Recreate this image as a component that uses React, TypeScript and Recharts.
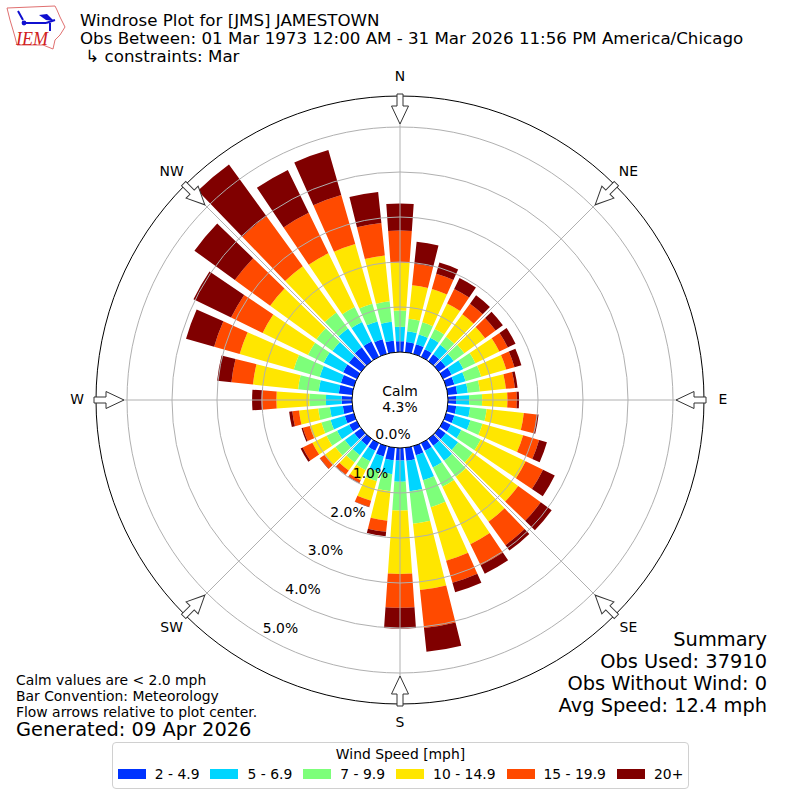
import React from 'react'
import { RadialBarChart, RadialBar, PolarAngleAxis, PolarRadiusAxis } from 'recharts'

const directions = [0, 10, 20, 30, 40, 50, 60, 70, 80, 90, 100, 110, 120, 130, 140, 150, 160, 170, 180, 190, 200, 210, 220, 230, 240, 250, 260, 270, 280, 290, 300, 310, 320, 330, 340, 350]

const speed2to5 = [.24, .23, .22, .19, .19, .19, .21, .19, .21, .18, .19, .19, .19, .19, .19, .19, .21, .29, .28, .28, .24, .19, .18, .19, .19, .21, .21, .23, .30, .30, .34, .34, .38, .38, .34, .26]
const speed5to7 = [.32, .24, .23, .28, .26, .22, .29, .26, .24, .29, .31, .37, .26, .34, .41, .41, .58, .68, .47, .31, .35, .26, .27, .26, .30, .33, .29, .35, .45, .49, .48, .45, .52, .48, .41, .42]
const speed7to10 = [.36, .28, .28, .22, .22, .29, .30, .36, .27, .29, .37, .28, .48, .40, .44, .48, .62, .73, .64, .38, .22, .22, .20, .26, .26, .21, .26, .37, .46, .60, .39, .44, .44, .37, .41, .46]
const speed10to15 = [1.07, .75, .77, .63, .62, .57, .59, .58, .58, .56, .83, .94, 1.11, 1.25, 1.24, 1.42, 1.24, 1.48, 1.41, .66, .45, .25, .22, .30, .35, .27, .43, .73, 1.01, 1.25, 1.12, 1.27, 1.27, 1.33, 1.38, 1.02]
const speed15to20 = [.71, .48, .35, .36, .29, .29, .21, .19, .20, .21, .29, .37, .43, .62, .64, .52, .51, .85, .75, .25, .14, .06, .11, .12, .24, .16, .15, .33, .48, .59, .78, .97, 1.37, 1.00, 1.13, .73]
const speed20up = [.60, .49, .26, .27, .23, .20, .19, .16, .06, .05, .04, .18, .29, .30, .15, .21, .22, .53, .46, .10, .01, .01, .01, .01, .05, .03, .07, .21, .32, .65, .93, 1.11, 1.42, 1.06, 1.04, .69]

const speedKeys = ['s1', 's2', 's3', 's4', 's5', 's6']
const speedLabels = ['2 - 4.9', '5 - 6.9', '7 - 9.9', '10 - 14.9', '15 - 19.9', '20+']
const speedColors = ['#0033ff', '#00d5ff', '#7dff7a', '#ffe600', '#ff4a00', '#800000']

const percentTicks = [0, 1, 2, 3, 4, 5]
const compassNames = ['N', 'NE', 'E', 'SE', 'S', 'SW', 'W', 'NW']
const compassBearings = [0, 45, 90, 135, 180, 225, 270, 315]

const titleLines = [
  'Windrose Plot for [JMS] JAMESTOWN',
  'Obs Between: 01 Mar 1973 12:00 AM - 31 Mar 2026 11:56 PM America/Chicago',
  ' \u21b3 constraints: Mar'
]
const summaryLines = ['Summary', 'Obs Used: 37910', 'Obs Without Wind: 0', 'Avg Speed: 12.4 mph']
const noteLines = ['Calm values are < 2.0 mph', 'Bar Convention: Meteorology', 'Flow arrows relative to plot center.']

const chartData = directions.map((dir, i) => ({
  dir,
  s1: speed2to5[i],
  s2: speed5to7[i],
  s3: speed7to10[i],
  s4: speed10to15[i],
  s5: speed15to20[i],
  s6: speed20up[i]
}))

const CX = 400
const CY = 400
const R_IN = 48
const R_OUT = 304
const PX_PER_PCT = 45
const MAX_PCT = 6
const FONT = 'DejaVu Sans'

const ringRadius = (t: number) => R_IN + t * PX_PER_PCT
const rad = (deg: number) => (deg * Math.PI) / 180

function Logo() {
  return (
    <g>
      <path
        d="M7 8 L55 6 L57 10 L60 17 L65 27 L60 35 L55 40 L53 49 L43 45 L17 45 L15 37 L13 30 L10 20 Z"
        fill="#fff"
        stroke="#e07070"
        strokeWidth={1}
      />
      <path d="M25 23 L46 23 M46 23 L55 20 M18 11 L23 20 M50 23 L50 31" stroke="#1010d0" strokeWidth={2} fill="none" />
      <path d="M39 15 L47 14 L54 21 L46 20 Z" fill="#1010d0" />
      <circle cx={24} cy={23} r={2.4} fill="#1010d0" />
      <text x={16} y={45} fontFamily="Liberation Serif" fontStyle="italic" fontSize={18} fill="#d02020">IEM</text>
    </g>
  )
}

export default function App() {
  return (
    <div style={{ position: 'absolute', left: 0, top: 0, width: 800, height: 800, background: '#fff' }}>
      <RadialBarChart
        width={800}
        height={800}
        data={chartData}
        layout="centric"
        cx={CX}
        cy={CY}
        innerRadius={R_IN}
        outerRadius={ringRadius(MAX_PCT)}
        startAngle={85}
        endAngle={-275}
        barCategoryGap="10%"
        margin={{ top: 0, right: 0, bottom: 0, left: 0 }}
      >
        <PolarAngleAxis type="category" dataKey="dir" tick={false} axisLine={false} />
        <PolarRadiusAxis type="number" domain={[0, MAX_PCT]} axisLine={false} tickLine={false} tick={false} />
        {speedKeys.map((key, i) => (
          <RadialBar key={key} dataKey={key} stackId="wind" fill={speedColors[i]} isAnimationActive={false} />
        ))}
      </RadialBarChart>

      <svg width={800} height={800} style={{ position: 'absolute', left: 0, top: 0, pointerEvents: 'none' }}>
        {percentTicks.slice(1).map((t) => (
          <circle key={t} cx={CX} cy={CY} r={ringRadius(t)} fill="none" stroke="#b0b0b0" strokeWidth={1} />
        ))}
        {compassBearings.map((b) => (
          <line
            key={b}
            x1={CX + R_IN * Math.sin(rad(b))}
            y1={CY - R_IN * Math.cos(rad(b))}
            x2={CX + R_OUT * Math.sin(rad(b))}
            y2={CY - R_OUT * Math.cos(rad(b))}
            stroke="#b0b0b0"
            strokeWidth={1}
          />
        ))}
        <circle cx={CX} cy={CY} r={R_OUT} fill="none" stroke="#000" strokeWidth={1} />
        <circle cx={CX} cy={CY} r={R_IN} fill="none" stroke="#000" strokeWidth={1} />
        {percentTicks.map((t) => (
          <text
            key={t}
            x={CX - 0.5 * ringRadius(t) + 17}
            y={CY + 0.866 * ringRadius(t) - 3}
            textAnchor="middle"
            fontSize={13.9}
            fontFamily={FONT}
          >
            {t.toFixed(1)}%
          </text>
        ))}
        {compassBearings.map((b, i) => (
          <g key={b}>
            <polygon
              points="397,94 403,94 403,106 408.5,106 400,124 391.5,106 397,106"
              fill="#fff"
              stroke="#333"
              strokeWidth={1}
              transform={`rotate(${b} ${CX} ${CY})`}
            />
            <text
              x={CX + 323 * Math.sin(rad(b))}
              y={CY - 323 * Math.cos(rad(b)) + 4}
              textAnchor="middle"
              fontSize={13.9}
              fontFamily={FONT}
            >
              {compassNames[i]}
            </text>
          </g>
        ))}
        <text x={CX} y={396} textAnchor="middle" fontSize={13.9} fontFamily={FONT}>Calm</text>
        <text x={CX} y={412} textAnchor="middle" fontSize={13.9} fontFamily={FONT}>4.3%</text>

        <Logo />
        {titleLines.map((line, i) => (
          <text key={i} x={80} y={26 + i * 18} fontSize={16.67} fontFamily={FONT} xmlSpace="preserve">{line}</text>
        ))}
        {summaryLines.map((line, i) => (
          <text key={i} x={767} y={646 + i * 22} textAnchor="end" fontSize={19.4} fontFamily={FONT}>{line}</text>
        ))}
        {noteLines.map((line, i) => (
          <text key={i} x={16} y={685 + i * 16} fontSize={13.9} fontFamily={FONT}>{line}</text>
        ))}
        <text x={16} y={736} fontSize={19.4} fontFamily={FONT}>Generated: 09 Apr 2026</text>
      </svg>

      <div
        style={{
          position: 'absolute',
          left: 112,
          top: 742,
          width: 575,
          height: 45,
          border: '1px solid #d0d0d0',
          borderRadius: 4,
          fontFamily: FONT,
          fontSize: 13.9,
          textAlign: 'center',
          boxSizing: 'content-box'
        }}
      >
        <div style={{ marginTop: 2, lineHeight: '18px' }}>Wind Speed [mph]</div>
        <div style={{ display: 'flex', justifyContent: 'center', alignItems: 'center', marginTop: 3 }}>
          {speedLabels.map((label, i) => (
            <div key={label} style={{ display: 'flex', alignItems: 'center', marginRight: i < 5 ? 11 : 0 }}>
              <span style={{ width: 28, height: 10, background: speedColors[i], marginRight: 9 }} />
              <span>{label}</span>
            </div>
          ))}
        </div>
      </div>
    </div>
  )
}
